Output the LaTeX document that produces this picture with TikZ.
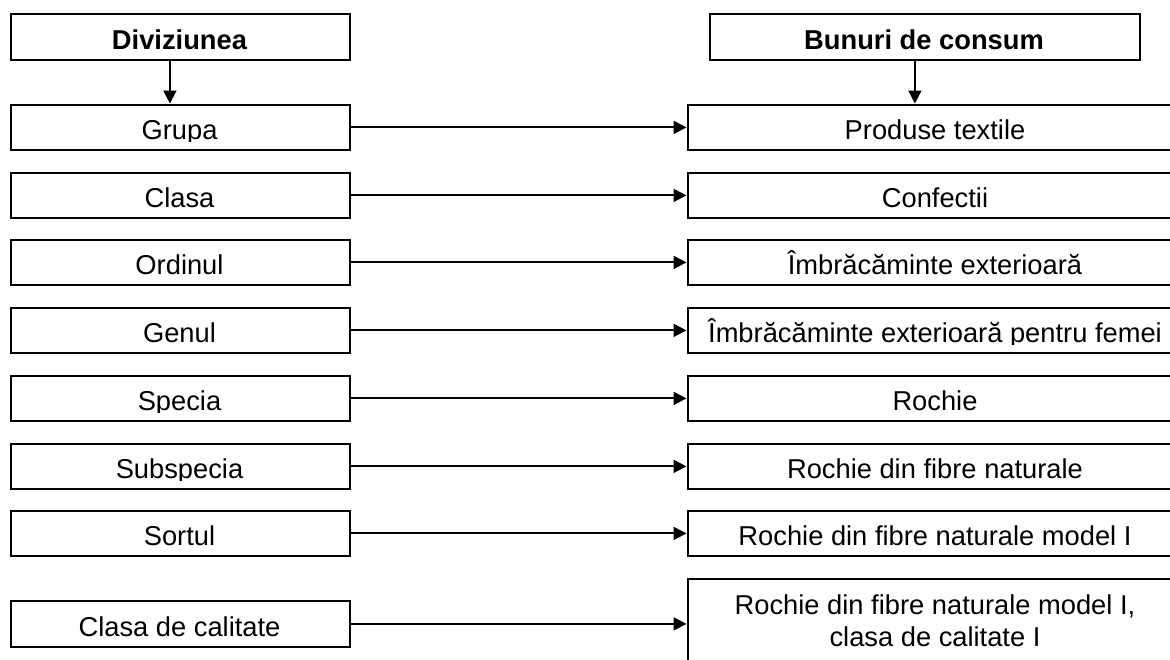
\documentclass[tikz,border=0pt]{standalone}
\usepackage{fontspec}
\setmainfont{Liberation Sans}
\usetikzlibrary{arrows.meta}
\tikzset{
  boxshape/.style={draw, line width=1.8pt, inner sep=0pt, anchor=north west},
  txt/.style={inner sep=0pt, anchor=base, font=\fontsize{27.3}{32}\selectfont},
  hdr/.style={txt, font=\fontsize{27.3}{32}\selectfont\bfseries},
  arr/.style={line width=1.9pt, -{Triangle[length=13pt,width=13pt]}, shorten >=0.5pt}
}
% \mybox{name}{x1}{y1}{x2}{y2}{style}{text}
\newcommand{\mybox}[7]{%
  \node[boxshape, minimum width=#4-#2, minimum height=#5-#3] (#1) at (#2,#3) {};
  \begin{scope}
    \clip (#2+1,#3+1) rectangle (#4-1,#5-8);
    \node[#6] (#1t) at ({(#2+#4)/2},#5-10) {#7};
  \end{scope}}
\begin{document}
\begin{tikzpicture}[x=1pt,y=-1pt]
\useasboundingbox (0,0) rectangle (1170,659);
\clip (0,0) rectangle (1170,659);
% headers
\mybox{H1}{10}{13}{349}{59}{hdr}{Diviziunea}
\mybox{H2}{709}{13}{1139}{59}{hdr}{Bunuri de consum}
% left column
\mybox{L1}{10}{104}{349}{149}{txt}{Grupa}
\mybox{L2}{10}{172}{349}{217}{txt}{Clasa}
\mybox{L3}{10}{239}{349}{284}{txt}{Ordinul}
\mybox{L4}{10}{307}{349}{352}{txt}{Genul}
\mybox{L5}{10}{375}{349}{420}{txt}{Specia}
\mybox{L6}{10}{443}{349}{488}{txt}{Subspecia}
\mybox{L7}{10}{510}{349}{555}{txt}{Sortul}
\mybox{L8}{10}{600}{349}{646}{txt}{Clasa de calitate}
% right column
\mybox{R1}{687}{104}{1183}{149}{txt}{Produse textile}
\mybox{R2}{687}{172}{1183}{217}{txt}{Confectii}
\mybox{R3}{687}{239}{1183}{284}{txt}{Îmbrăcăminte exterioară}
\mybox{R4}{687}{307}{1183}{352}{txt}{Îmbrăcăminte exterioară pentru femei}
\mybox{R5}{687}{375}{1183}{420}{txt}{Rochie}
\mybox{R6}{687}{443}{1183}{488}{txt}{Rochie din fibre naturale}
\mybox{R7}{687}{510}{1183}{555}{txt}{Rochie din fibre naturale model I}
\node[boxshape, minimum width=496, minimum height=88] (R8) at (687,578) {};
\node[txt] (R8a) at (935,614) {Rochie din fibre naturale model I,};
\node[txt] (R8b) at (935,646) {clasa de calitate I};
% connectors
\draw[arr] ([xshift=-10.5pt]H1.south) -- ([xshift=-10.5pt]H1.south |- L1.north);
\draw[arr] ([xshift=-10pt]H2.south) -- ([xshift=-10pt]H2.south |- R1.north);
\foreach \i in {1,...,7}{
  \draw[arr] (L\i.east) -- (R\i.west);
}
\draw[arr] (L8.east) -- ([yshift=-1pt]R8.west);
\end{tikzpicture}
\end{document}
